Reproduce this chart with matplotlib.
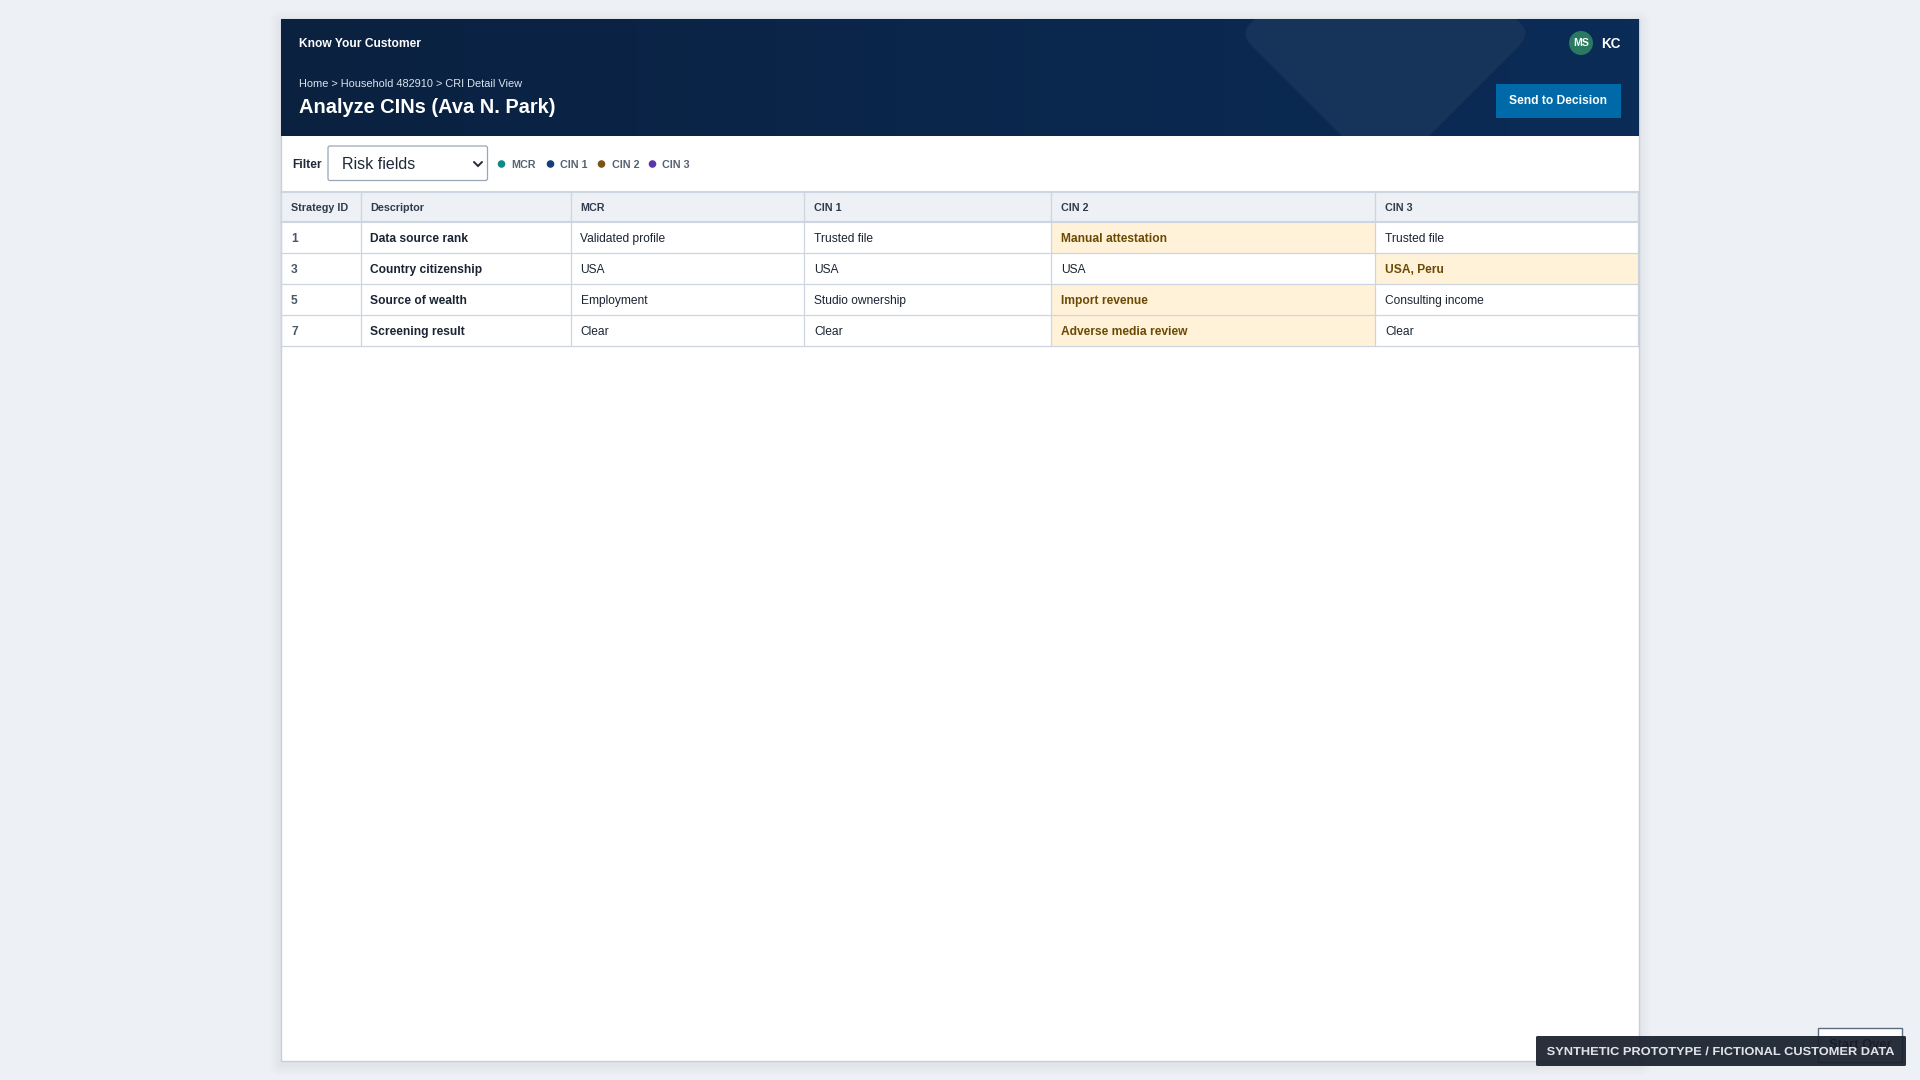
import numpy as np
import matplotlib
matplotlib.use("Agg")
import matplotlib.pyplot as plt
from matplotlib.patches import Rectangle, FancyBboxPatch, Circle, PathPatch
from matplotlib.path import Path
from matplotlib.patheffects import AbstractPathEffect

plt.rcParams['font.family'] = ['Liberation Sans', 'DejaVu Sans']

# ---- content ----
app_title = "Know Your Customer"
breadcrumb = "Home > Household 482910 > CRI Detail View"
page_title = "Analyze CINs (Ava N. Park)"
avatar = "MS"
user = "KC"
action = "Send to Decision"
filter_label = "Filter"
filter_value = "Risk fields"
legend_labels = ["MCR", "CIN 1", "CIN 2", "CIN 3"]
legend_colors = ["#0f8a8a", "#143d7a", "#7a5518", "#5b36a8"]
headers = ["Strategy ID", "Descriptor", "MCR", "CIN 1", "CIN 2", "CIN 3"]
strategy_ids = ["1", "3", "5", "7"]
descriptors = ["Data source rank", "Country citizenship", "Source of wealth", "Screening result"]
mcr = ["Validated profile", "USA", "Employment", "Clear"]
cin1 = ["Trusted file", "USA", "Studio ownership", "Clear"]
cin2 = ["Manual attestation", "USA", "Import revenue", "Adverse media review"]
cin3 = ["Trusted file", "USA, Peru", "Consulting income", "Clear"]
flag_cin2 = [True, False, True, True]
flag_cin3 = [False, True, False, False]
start_over = "Start Over"
banner = "SYNTHETIC PROTOTYPE / FICTIONAL CUSTOMER DATA"

# ---- layout (pixels) ----
col_edges = [281, 360.5, 570.5, 804, 1051, 1375, 1638]
row_edges = [192, 222, 253, 284, 315, 346]
legend_dot_x = [501.5, 550.5, 601.5, 652.5]
PX = 0.72

BG = "#edf0f4"
LINE = "#cdd5e0"

fig = plt.figure(figsize=(19.2, 10.8), dpi=100, facecolor=BG)
ax = fig.add_axes([0, 0, 1, 1])
ax.set_xlim(0, 1920)
ax.set_ylim(1080, 0)
ax.axis("off")


class Widen(AbstractPathEffect):
    """Draw the text wider about its own centre (stands in for letter spacing)."""

    def __init__(self, factor, cx_px):
        super().__init__()
        self.factor = factor
        self.cx_px = cx_px

    def draw_path(self, renderer, gc, tpath, affine, rgbFace=None):
        aff = (affine + matplotlib.transforms.Affine2D()
               .translate(-self.cx_px, 0).scale(self.factor, 1).translate(self.cx_px, 0))
        renderer.draw_path(gc, tpath, aff, rgbFace)


def txt(x, y, s, size, color, weight="normal", ha="left", z=6):
    return ax.text(x, y, s, fontsize=size * PX, color=color, fontweight=weight,
                   ha=ha, va="baseline", zorder=z)


# card shadow
for g in range(1, 13):
    ax.add_patch(FancyBboxPatch((281 - g, 19 - g + 3), 1358 + 2 * g, 1042 + 2 * g,
                                boxstyle="round,pad=0,rounding_size=%d" % g,
                                fc="#1f3350", ec="none", alpha=0.0035, zorder=1))
# card
ax.add_patch(Rectangle((281, 19), 1358, 1042, fc="white", ec="#c6cfda", lw=1.0, zorder=2))

# header gradient
grad = np.linspace(0, 1, 256).reshape(1, -1)
cmap = matplotlib.colors.LinearSegmentedColormap.from_list("hdr", ["#0a2140", "#0a2c57"])
ax.imshow(grad, extent=(281, 1639, 136, 19), cmap=cmap, aspect="auto", zorder=3,
          interpolation="bilinear")
ax.set_xlim(0, 1920)
ax.set_ylim(1080, 0)

# decorative shape
verts = [(1255, 19), (1249, 25), (1241, 34), (1251, 45), (1342, 136), (1429, 136),
         (1520, 45), (1530, 34), (1522, 25), (1516, 19), (1255, 19)]
codes = [Path.MOVETO, Path.LINETO, Path.CURVE3, Path.CURVE3, Path.LINETO, Path.LINETO,
         Path.LINETO, Path.CURVE3, Path.CURVE3, Path.LINETO, Path.CLOSEPOLY]
ax.add_patch(PathPatch(Path(verts, codes), fc="#16335a", ec="none", zorder=4))

# header texts
txt(299, 47, app_title, 12, "white", "bold")
txt(299, 87, breadcrumb, 11, "#dbe3ee")
txt(299, 113, page_title, 20, "white", "bold")
ax.add_patch(Circle((1581, 43), 12, fc="#2a7a62", ec="none", zorder=5))
txt(1581, 46.5, avatar, 10.5, "white", "bold", ha="center")
txt(1601.5, 47.5, user, 13.5, "white", "bold")
ax.add_patch(Rectangle((1496, 84), 124.5, 33.5, fc="#0069a8", ec="none", zorder=5))
txt(1558, 104, action, 12, "white", "bold", ha="center")

# filter row
txt(292.5, 168, filter_label, 12, "#1f2a38", "bold")
ax.add_patch(FancyBboxPatch((328, 146), 159.5, 34.5, boxstyle="round,pad=0,rounding_size=2",
                            fc="white", ec="#9aa6b6", lw=0.9, zorder=5))
txt(342.5, 169, filter_value, 16, "#1f2a38")
ax.plot([474, 478, 482], [162, 166, 162], color="#1f2a38", lw=1.4, zorder=6,
        solid_capstyle="round", solid_joinstyle="miter")
for dot, lab, col in zip(legend_dot_x, legend_labels, legend_colors):
    ax.add_patch(Circle((dot, 164), 3.8, fc=col, ec="none", zorder=5))
    txt(dot + 10, 167.8, lab, 10.8, "#566273", "bold")

# table
columns = [strategy_ids, descriptors, mcr, cin1, cin2, cin3]
flags = {4: flag_cin2, 5: flag_cin3}
ax.add_patch(Rectangle((col_edges[0], row_edges[0]), col_edges[-1] - col_edges[0],
                       row_edges[1] - row_edges[0], fc="#edf0f5", ec="none", zorder=3))
for c, fl in flags.items():
    for r, on in enumerate(fl):
        if on:
            ax.add_patch(Rectangle((col_edges[c], row_edges[r + 1]),
                                   col_edges[c + 1] - col_edges[c],
                                   row_edges[r + 2] - row_edges[r + 1],
                                   fc="#fff2d9", ec="none", zorder=3))
for i, y in enumerate(row_edges):
    ax.plot([col_edges[0], col_edges[-1]], [y, y], color=LINE,
            lw=1.5 if i < 2 else 0.9, zorder=4)
for x in col_edges:
    ax.plot([x, x], [row_edges[0], row_edges[-1]], color=LINE, lw=0.9, zorder=4)
for c, head in enumerate(headers):
    txt(col_edges[c] + 10, 211, head, 10.8, "#2f3b4c", "bold")
for c, values in enumerate(columns):
    for r, val in enumerate(values):
        base = row_edges[r + 1] + 20
        x = col_edges[c] + 10
        flagged = c in flags and flags[c][r]
        if flagged:
            txt(x, base, val, 12, "#6a4a05", "bold")
        elif c == 0:
            txt(x, base, val, 12, "#4a5666", "bold")
        elif c == 1:
            txt(x, base, val, 12, "#1a2433", "bold")
        else:
            txt(x, base, val, 12, "#1a2433")

# start-over button and banner
ax.add_patch(Rectangle((1818, 1028), 83.5, 33.5, fc="white", ec="#5b6b80", lw=1, zorder=7))
txt(1860, 1047.5, start_over, 13, "#0b1118", "bold", ha="center", z=8)
ax.add_patch(FancyBboxPatch((1536, 1036), 370, 30, boxstyle="round,pad=0,rounding_size=1.5",
                            fc="#18202c", ec="none", alpha=0.93, zorder=9))
b = txt(1721, 1055, banner, 11.6, "#dfe3e9", "bold", ha="center", z=10)
b.set_path_effects([Widen(1.105, 1721)])

fig.savefig("out.png", dpi=100, facecolor=BG)
